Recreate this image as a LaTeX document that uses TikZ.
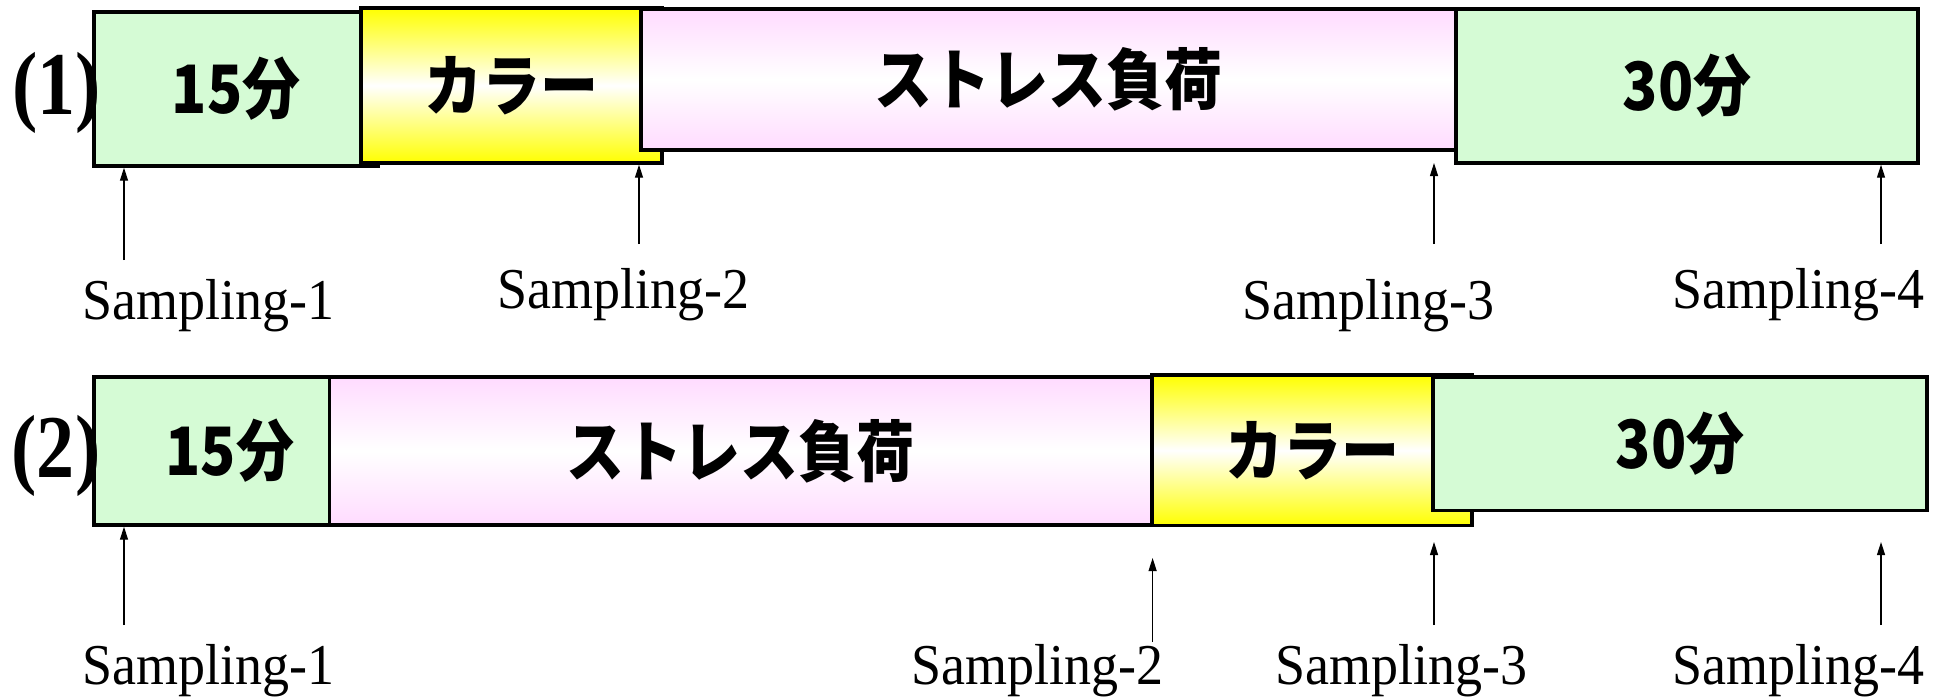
\documentclass[tikz,border=0pt]{standalone}
\usepackage{fontspec}
\usepackage{graphicx}
\setmainfont{Liberation Serif}
\newfontfamily\jp{Noto Sans CJK JP}
\usetikzlibrary{arrows.meta}
\definecolor{boxgreen}{RGB}{213,251,213}
\definecolor{boxpink}{RGB}{255,219,255}
\definecolor{boxyellow}{RGB}{255,255,0}
\newcommand{\jtxt}[1]{\scalebox{1}[1.15]{\jp\bfseries\fontsize{29}{29}\selectfont #1}}
\newcommand{\stxt}[1]{\scalebox{1}[1.07]{\fontsize{27}{27}\selectfont #1}}
\newcommand{\rtxt}[1]{\scalebox{1}[1.18]{\bfseries\fontsize{38}{38}\selectfont #1}}
\tikzset{
  boxbase/.style={draw=black, line width=1.7pt, inner sep=0pt, rectangle},
  greenbox/.style={boxbase, fill=boxgreen},
  pinkbox/.style={boxbase, top color=boxpink, bottom color=boxpink, middle color=white},
  yellowbox/.style={boxbase, top color=boxyellow, bottom color=boxyellow, middle color=white},
  samplabel/.style={inner sep=0pt, anchor=base},
  rowlabel/.style={inner sep=0pt},
  samparrow/.style={line width=0.6pt, -{Triangle[length=6.5pt,width=4pt]}}
}
\begin{document}
\begin{tikzpicture}[x=0.5pt,y=-0.5pt]
\useasboundingbox (0,0) rectangle (1946,696);
% ---------- row (1) ----------
\node[greenbox, minimum width=142pt, minimum height=77pt] (g1) at (236,89) {\jtxt{15分}};
\node[yellowbox, minimum width=150.5pt, minimum height=77.5pt] (y1) at (511.5,85.5) {\jtxt{カラー}};
\node[pinkbox, minimum width=407.5pt, minimum height=70.5pt] (p1) at (1048.5,79.5) {\jtxt{ストレス負荷}};
\node[greenbox, minimum width=231pt, minimum height=77pt] (g2) at (1687,86) {\jtxt{30分}};
\node[rowlabel] (r1) at (57,93) {\rtxt{(1)}};

\node[samplabel] (s11) at (208,319) {\stxt{Sampling-1}};
\node[samplabel] (s12) at (623,308) {\stxt{Sampling-2}};
\node[samplabel] (s13) at (1368,319) {\stxt{Sampling-3}};
\node[samplabel] (s14) at (1798,308) {\stxt{Sampling-4}};

\coordinate (a1) at (124,260);
\coordinate (a2) at (639,244);
\coordinate (a3) at (1434,244);
\coordinate (a4) at (1881,244);
\coordinate (a3t) at (1434,163);
\draw[samparrow] (a1) -- (a1 |- g1.south);
\draw[samparrow] (a2) -- (a2 |- y1.south);
\draw[samparrow] (a3) -- (a3t);
\draw[samparrow] (a4) -- (a4 |- g2.south);

% ---------- row (2) ----------
\node[greenbox, minimum width=117.75pt, minimum height=74pt] (g3) at (211.75,451) {\hspace*{18pt}\jtxt{15分}};
\node[pinkbox, minimum width=411.25pt, minimum height=74pt] (p2) at (740.75,451) {\jtxt{ストレス負荷}};
\node[yellowbox, minimum width=160pt, minimum height=75.35pt] (y2) at (1312,450.35) {\jtxt{カラー}};
\node[greenbox, minimum width=247pt, minimum height=66.85pt] (g4) at (1680,443.85) {\jtxt{30分}};
\node[rowlabel] (r2) at (56,456) {\rtxt{(2)}};

\node[samplabel] (s21) at (208,684) {\stxt{Sampling-1}};
\node[samplabel] (s22) at (1037,684) {\stxt{Sampling-2}};
\node[samplabel] (s23) at (1401,684) {\stxt{Sampling-3}};
\node[samplabel] (s24) at (1798,684) {\stxt{Sampling-4}};

\coordinate (b1) at (124,625);
\coordinate (b2) at (1152.6,642);
\coordinate (b3) at (1434,625);
\coordinate (b4) at (1881,625);
\coordinate (b2t) at (1152.6,558);
\coordinate (b3t) at (1434,542);
\coordinate (b4t) at (1881,542);
\draw[samparrow] (b1) -- (b1 |- g3.south);
\draw[samparrow] (b2) -- (b2t);
\draw[samparrow] (b3) -- (b3t);
\draw[samparrow] (b4) -- (b4t);
\end{tikzpicture}
\end{document}
